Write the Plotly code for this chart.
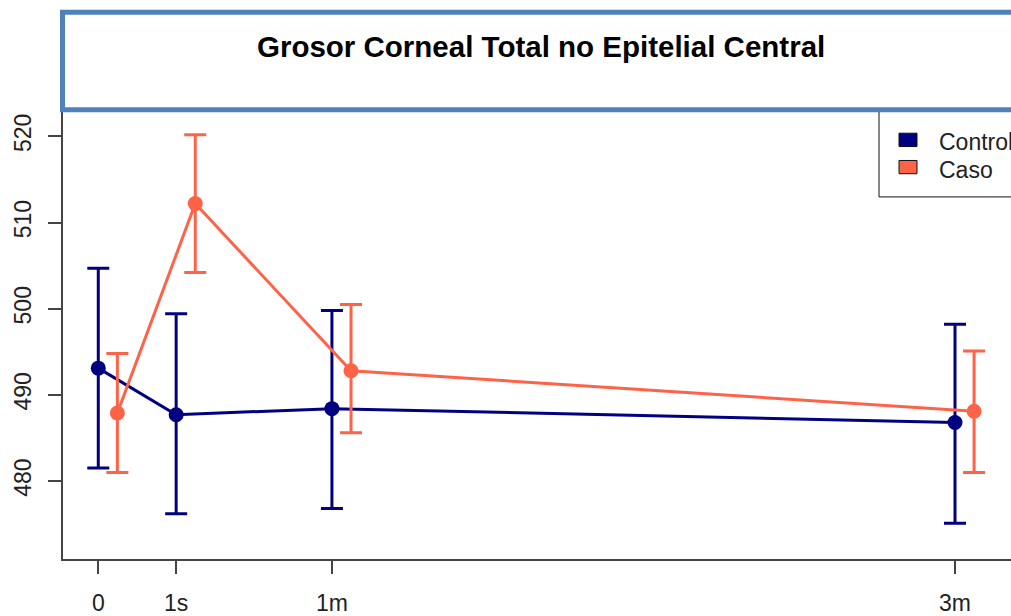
import plotly.graph_objects as go

# ---- data ----
time_labels = ["0", "1s", "1m", "3m"]
time_pos = [0, 1, 3, 11]
caso_offset = 0.245

control_mean = [493.1, 487.7, 488.4, 486.8]
control_upper = [504.7, 499.4, 499.8, 498.2]
control_lower = [481.5, 476.2, 476.8, 475.1]

caso_mean = [487.9, 512.2, 492.8, 488.1]
caso_upper = [494.8, 520.2, 500.5, 495.1]
caso_lower = [481.0, 504.2, 485.6, 481.0]

title_text = "Grosor Corneal Total no Epitelial Central"
series_names = ["Control", "Caso"]
series_colors = ["#000080", "#FF6347"]

W, H = 1011, 616
ML, MR, MT, MB = 63, 0, 112, 55
PW, PH = W - ML - MR, H - MT - MB


def px_x(x):
    return (x - ML) / PW


def px_y(y):
    return (H - MB - y) / PH


fig = go.Figure()


def add_series(xs, mean, up, lo, color, name):
    fig.add_trace(go.Scatter(
        x=xs, y=mean, mode="lines+markers", name=name,
        line=dict(color=color, width=3),
        marker=dict(color=color, size=15),
        error_y=dict(type="data", symmetric=False,
                     array=[u - m for u, m in zip(up, mean)],
                     arrayminus=[m - l for m, l in zip(mean, lo)],
                     color=color, thickness=3, width=11),
        showlegend=False,
        cliponaxis=False,
    ))


add_series(time_pos, control_mean, control_upper, control_lower, series_colors[0], series_names[0])
add_series([t + caso_offset for t in time_pos], caso_mean, caso_upper, caso_lower, series_colors[1], series_names[1])

axis_font = dict(family="Liberation Sans, Arial, sans-serif", size=23, color="#222")

fig.update_xaxes(
    range=[-0.453, 11.719], tickvals=time_pos, ticktext=time_labels,
    showline=True, linecolor="#444", linewidth=2, mirror=False,
    ticks="outside", ticklen=13, tickwidth=1.5, tickcolor="#444",
    showgrid=False, zeroline=False, tickfont=axis_font, ticklabelstandoff=9,
)
fig.update_yaxes(
    range=[470.95, 522.83], tickvals=[480, 490, 500, 510, 520],
    showline=True, linecolor="#444", linewidth=2, mirror=False,
    ticks="outside", ticklen=13, tickwidth=1.5, tickcolor="#444",
    showgrid=False, zeroline=False, tickfont=axis_font, tickangle=-90,
    ticklabelstandoff=8,
)

shapes = []
# legend box
shapes.append(dict(type="rect", xref="paper", yref="paper",
                   x0=px_x(879), x1=1.05, y0=px_y(197.3), y1=px_y(110),
                   line=dict(color="#111", width=1), fillcolor="white", layer="above"))
# legend swatches
for (y0, y1), c in zip([(133.3, 146.7), (160.7, 174.0)], series_colors):
    shapes.append(dict(type="rect", xref="paper", yref="paper",
                       x0=px_x(899), x1=px_x(917), y0=px_y(y1), y1=px_y(y0),
                       line=dict(color="#111", width=1), fillcolor=c, layer="above"))
# title box
shapes.append(dict(type="rect", xref="paper", yref="paper",
                   x0=px_x(62.5), x1=1.05, y0=px_y(109.8), y1=px_y(11.7),
                   line=dict(color="#4F81BD", width=5), fillcolor="white", layer="above"))

annotations = [
    dict(text=f"<b>{title_text}</b>", xref="paper", yref="paper",
         x=px_x(541), y=px_y(46.7), xanchor="center", yanchor="middle",
         showarrow=False, font=dict(family="Liberation Sans, Arial, sans-serif", size=29.5, color="black")),
]
for name, yc in zip(series_names, [141.7, 170.0]):
    annotations.append(dict(text=name, xref="paper", yref="paper",
                            x=px_x(937), y=px_y(yc), xanchor="left", yanchor="middle",
                            showarrow=False, font=axis_font))

fig.update_layout(
    width=W, height=H,
    margin=dict(l=ML, r=MR, t=MT, b=MB),
    paper_bgcolor="white", plot_bgcolor="white",
    shapes=shapes, annotations=annotations,
)

fig.write_html("out.html", config={"displayModeBar": False},
               post_script="document.body.style.margin='0';document.body.style.overflow='hidden';")
